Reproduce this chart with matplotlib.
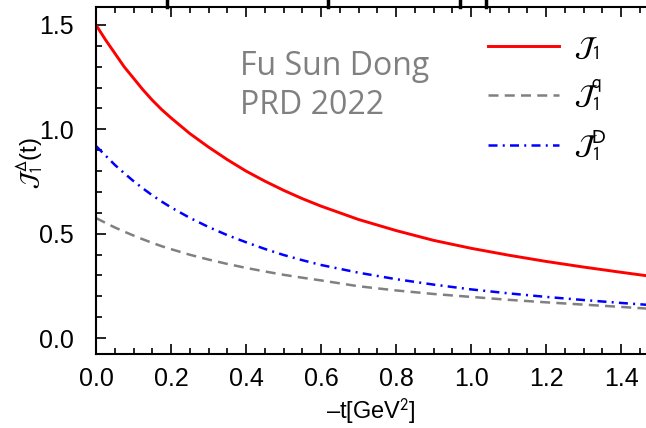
import matplotlib
matplotlib.use('Agg')
import matplotlib.pyplot as plt
from matplotlib.lines import Line2D

# values
t_vals = [0.0, 0.025, 0.05, 0.075, 0.1, 0.125, 0.15, 0.175, 0.2, 0.25, 0.3, 0.35,
          0.4, 0.45, 0.5, 0.55, 0.6, 0.7, 0.8, 0.9, 1.0, 1.1, 1.2, 1.3, 1.4, 1.47]
j1_total = [1.50, 1.43, 1.365, 1.30, 1.245, 1.19, 1.14, 1.095, 1.055, 0.98, 0.915, 0.855,
            0.80, 0.752, 0.708, 0.668, 0.632, 0.568, 0.515, 0.468, 0.43, 0.397,
            0.367, 0.34, 0.315, 0.298]
j1_quark = [0.575, 0.552, 0.530, 0.510, 0.491, 0.473, 0.456, 0.440, 0.426, 0.399, 0.376, 0.355,
            0.336, 0.319, 0.303, 0.289, 0.276, 0.248, 0.228, 0.211, 0.197, 0.183,
            0.171, 0.160, 0.149, 0.141]
j1_d = [0.92, 0.875, 0.83, 0.79, 0.752, 0.717, 0.684, 0.654, 0.626, 0.576, 0.532, 0.493,
        0.459, 0.427, 0.398, 0.373, 0.35, 0.313, 0.282, 0.256, 0.233, 0.214,
        0.197, 0.182, 0.168, 0.159]

plt.rcParams['font.family'] = ['Liberation Sans', 'DejaVu Sans']
plt.rcParams['mathtext.fontset'] = 'stixsans'

fig = plt.figure(figsize=(6.46, 4.28), dpi=100)
ax = fig.add_axes([96 / 646, 74 / 428, 550 / 646, 347 / 428])

ax.plot(t_vals, j1_total, color='#ff0000', lw=2.1, label=r'$\mathcal{J}_1$')
ax.plot(t_vals, j1_quark, color='#808080', lw=1.8, dashes=[4.0, 2.5],
        label=r'$\mathcal{J}_1^{\mathrm{q}}$')
ax.plot(t_vals, j1_d, color='#0000ff', lw=1.8, dashes=[3.6, 2.1, 0.8, 2.1],
        label=r'$\mathcal{J}_1^{\mathrm{D}}$')

ax.set_xlim(0, 550 / 375)
ax.set_ylim(-16 / 208.7, 1.5 + 18 / 208.7)
ax.set_xticks([0.0, 0.2, 0.4, 0.6, 0.8, 1.0, 1.2, 1.4])
ax.set_xticks([i * 0.05 for i in range(30)], minor=True)
ax.set_yticks([0.0, 0.5, 1.0, 1.5])
ax.set_yticks([i * 0.1 for i in range(16)], minor=True)
ax.xaxis.set_major_formatter(plt.FormatStrFormatter('%.1f'))
ax.yaxis.set_major_formatter(plt.FormatStrFormatter('%.1f'))
ax.tick_params(which='both', direction='in', top=True, right=False,
               width=1.2, labelsize=18)
ax.tick_params(which='major', length=7)
ax.tick_params(which='minor', length=4)
ax.tick_params(axis='x', which='major', pad=9)
ax.tick_params(axis='y', which='major', pad=16)
ax.spines['right'].set_visible(False)
for s in ['left', 'bottom', 'top']:
    ax.spines[s].set_linewidth(1.5)

ax.set_xlabel('\u2013t[GeV$^2$]', fontsize=17, labelpad=4)
ax.set_ylabel(r'$\mathcal{J}_1^{\,\Delta}$(t)', fontsize=17)
ax.yaxis.set_label_coords(-0.093, 0.55)

ax.legend(loc='upper left', bbox_to_anchor=(474 / 646, 1 - 22 / 428),
          bbox_transform=fig.transFigure, frameon=False, borderpad=0,
          fontsize=20, handlelength=2.55, labelspacing=0.55, handletextpad=0.55)

fig.text(240 / 646, 1 - 75 / 428, 'Fu Sun Dong', color='#808080', fontsize=23,
         family='Open Sans', va='baseline')
fig.text(240 / 646, 1 - 114 / 428, 'PRD 2022', color='#808080', fontsize=23,
         family='Open Sans', va='baseline')

# remnants of the frame of the panel cropped above
for xp in [167, 328, 460, 486]:
    fig.add_artist(Line2D([xp / 646, xp / 646], [1.0, 1 - 7 / 428],
                          transform=fig.transFigure, color='black', lw=2.5))

fig.savefig('out.png', dpi=100)
